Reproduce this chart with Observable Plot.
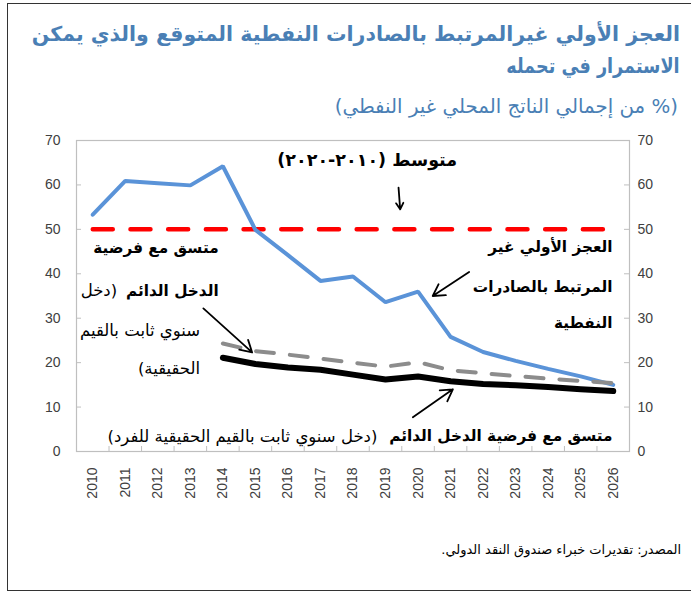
<!DOCTYPE html>
<html><head><meta charset="utf-8">
<script src="https://cdn.jsdelivr.net/npm/d3@7"></script>
<script src="https://cdn.jsdelivr.net/npm/@observablehq/plot@0.6"></script>
<style>
body{margin:0;background:#fff;width:691px;height:592px;position:relative;overflow:hidden;font-family:"DejaVu Sans",sans-serif;}
#frame{position:absolute;left:7px;top:3px;width:700px;height:588px;border:1.5px solid #333;box-sizing:border-box;}
.t{position:absolute;right:11px;direction:rtl;color:#4a7fb5;white-space:nowrap;transform-origin:right center;}
#t1{top:22px;font-weight:bold;font-size:20.5px;}
#t2{top:54px;font-weight:bold;font-size:20.5px;transform:scaleX(0.86);}
#t3{top:95px;font-size:19.8px;right:13px;}
#chart{position:absolute;left:0;top:130px;}
#src{position:absolute;right:10px;top:542px;direction:rtl;font-size:13px;color:#000;white-space:nowrap;}
</style></head>
<body>
<div id="frame"></div>
<div class="t" id="t1">العجز الأولي غيرالمرتبط بالصادرات النفطية المتوقع والذي يمكن</div>
<div class="t" id="t2">الاستمرار في تحمله</div>
<div class="t" id="t3">(% من إجمالي الناتج المحلي غير النفطي)</div>
<div id="chart"></div>
<div id="src">المصدر: تقديرات خبراء صندوق النقد الدولي.</div>
<script>
// ---- data ----
const years = [2010,2011,2012,2013,2014,2015,2016,2017,2018,2019,2020,2021,2022,2023,2024,2025,2026];
const deficit = [53.3,60.9,60.4,59.9,64.2,49.9,44.2,38.4,39.4,33.6,36.0,25.8,22.4,20.4,18.6,16.9,15.0];
const pihYears = [2014,2015,2016,2017,2018,2019,2020,2021,2022,2023,2024,2025,2026];
const pihConstantReal = [24.3,22.6,21.8,20.9,20.0,19.1,20.1,18.3,17.6,17.0,16.4,15.9,15.4];
const pihPerCapita = [21.1,19.7,18.9,18.4,17.3,16.2,16.9,15.8,15.2,14.9,14.5,14.0,13.6];
const avgYears = [2010, 2026];
const avgValue = [50, 50];
const yTicks = [0,10,20,30,40,50,60,70];
const categoryEdges = [2010.5,2011.5,2012.5,2013.5,2014.5,2015.5,2016.5,2017.5,2018.5,2019.5,2020.5,2021.5,2022.5,2023.5,2024.5,2025.5];

// annotations (positions in data units: year, percent)
const avgLabel = [{x: 2021.2, y: 65.5, text: "متوسط (٢٠١٠-٢٠٢٠)"}];
const boldLabels = [
  {x: 2013.87, y: 45.7, text: "متسق مع فرضية"},
  {x: 2013.87, y: 36.2, text: "الدخل الدائم"},
  {x: 2025.98, y: 45.9, text: "العجز الأولي غير"},
  {x: 2025.98, y: 36.9, text: "المرتبط بالصادرات"},
  {x: 2025.98, y: 28.8, text: "النفطية"},
  {x: 2025.98, y: 3.4, text: "متسق مع فرضية الدخل الدائم"}
];
const plainLabels = [
  {x: 2010.75, y: 36.2, text: "(دخل"},
  {x: 2013.3, y: 27.2, text: "سنوي ثابت بالقيم"},
  {x: 2013.3, y: 18.7, text: "الحقيقية)"},
  {x: 2018.75, y: 3.4, text: "(دخل سنوي ثابت بالقيم الحقيقية للفرد)"}
];
const arrows = [
  {x1: 2019.4, y1: 59.4, x2: 2019.45, y2: 54.5},
  {x1: 2021.57, y1: 40.4, x2: 2020.45, y2: 35.0},
  {x1: 2013.4, y1: 32.2, x2: 2014.9, y2: 22.3},
  {x1: 2019.84, y1: 7.7, x2: 2021.07, y2: 14.0}
];

const toRows = (xs, ys) => xs.map((x, i) => ({x, y: ys[i]}));

const W = 691, H = 400, mT = 10, mB = 79, mL = 76, mR = 62;
const innerH = H - mT - mB, innerW = W - mL - mR;

const chart = Plot.plot({
  width: W, height: H,
  marginTop: mT, marginBottom: mB, marginLeft: mL, marginRight: mR,
  x: {domain: [2009.5, 2026.5], axis: null},
  y: {domain: [0, 70], axis: null},
  style: {fontFamily: "Liberation Sans, Arial, sans-serif", fontSize: "14px", color: "#404040", background: "transparent", overflow: "visible"},
  marks: [
    Plot.frame({stroke: "#bfbfbf", strokeWidth: 1.2}),
    Plot.tickY(yTicks, {y: d => d, stroke: "#bfbfbf", insetRight: innerW - 5}),
    Plot.tickY(yTicks, {y: d => d, stroke: "#bfbfbf", insetLeft: innerW - 5}),
    Plot.tickX(categoryEdges, {x: d => d, stroke: "#bfbfbf", insetTop: innerH - 5}),
    Plot.axisY(yTicks, {anchor: "left", tickSize: 0, tickPadding: 16, fill: "#404040"}),
    Plot.axisY(yTicks, {anchor: "right", tickSize: 0, tickPadding: 8, fill: "#404040"}),
    Plot.axisX(years, {anchor: "bottom", tickSize: 0, tickRotate: -90, tickPadding: 16, tickFormat: d => String(d), fill: "#404040"}),
    Plot.line(toRows(avgYears, avgValue), {x: "x", y: "y", stroke: "#ff0000", strokeWidth: 4.5, strokeDasharray: "20,17.7"}),
    Plot.line(toRows(years, deficit), {x: "x", y: "y", stroke: "#5a93d8", strokeWidth: 4, strokeLinejoin: "miter"}),
    Plot.line(toRows(pihYears, pihConstantReal), {x: "x", y: "y", stroke: "#8c8c8c", strokeWidth: 4, strokeDasharray: "18,16"}),
    Plot.line(toRows(pihYears, pihPerCapita), {x: "x", y: "y", stroke: "#000", strokeWidth: 6}),
    Plot.arrow(arrows, {x1: "x1", y1: "y1", x2: "x2", y2: "y2", stroke: "#000", strokeWidth: 1.8, headLength: 11}),
    Plot.text(avgLabel, {x: "x", y: "y", text: "text", textAnchor: "start", fontWeight: "bold", fontSize: 17.5, fontFamily: "DejaVu Sans", fill: "#000"}),
    Plot.text(boldLabels, {x: "x", y: "y", text: "text", textAnchor: "start", fontWeight: "bold", fontSize: 15.3, fontFamily: "DejaVu Sans", fill: "#000"}),
    Plot.text(plainLabels, {x: "x", y: "y", text: "text", textAnchor: "start", fontSize: 16.5, fontFamily: "DejaVu Sans", fill: "#000"})
  ]
});
d3.select(chart).selectAll('g[aria-label="text"]').attr("direction", "rtl").style("direction", "rtl");
document.getElementById("chart").appendChild(chart);
</script>
</body></html>
